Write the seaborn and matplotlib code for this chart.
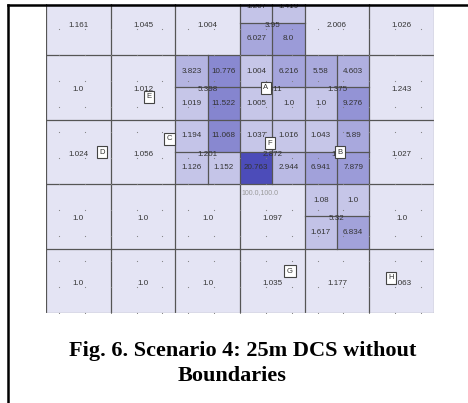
import numpy as np
import pandas as pd
import seaborn as sns
import matplotlib.pyplot as plt
from matplotlib.colors import LinearSegmentedColormap
from matplotlib.lines import Line2D
from matplotlib.patches import Rectangle

# top level 25m cells (5 rows x 6 cols), value shown in the middle
top_values = [
    [1.161, 1.045, 1.004, 3.95, 2.006, 1.026],
    [1.0, 1.012, 5.398, 2.311, 1.375, 1.243],
    [1.024, 1.056, 1.201, 2.872, 1.4, 1.027],
    [1.0, 1.0, 1.0, 1.097, 5.32, 1.0],
    [1.0, 1.0, 1.0, 1.035, 1.177, 1.063],
]
# cells that got split in four: (row, col) and values TL, TR, BL, BR
sub_cells = [(0, 3), (1, 2), (1, 3), (1, 4), (2, 2), (2, 3), (2, 4), (3, 4)]
sub_values = [
    [1.207, 1.419, 6.027, 8.0],
    [3.823, 10.776, 1.019, 11.522],
    [1.004, 6.216, 1.005, 1.0],
    [5.58, 4.603, 1.0, 9.276],
    [1.194, 11.068, 1.126, 1.152],
    [1.037, 1.016, 20.763, 2.944],
    [1.043, 5.89, 6.941, 7.879],
    [1.08, 1.0, 1.617, 6.834],
]
# marker boxes (in half-cell units)
marker_names = ['A', 'B', 'C', 'D', 'E', 'F', 'G', 'H']
marker_x = [6.80, 9.09, 3.83, 1.73, 3.19, 6.93, 7.55, 10.67]
marker_y = [3.02, 5.01, 4.60, 5.01, 3.30, 4.73, 8.70, 8.91]
origin_label = '100.0,100.0'

nrows, ncols = 5, 6

def top_shade(v):
    return 0.01 * (v - 1)

def sub_shade(v):
    return 0.2 + 0.8 * (v - 1) / 19.76

# half resolution grid for the heatmap
shade = np.zeros((nrows * 2, ncols * 2))
for r in range(nrows):
    for c in range(ncols):
        shade[2*r:2*r+2, 2*c:2*c+2] = top_shade(top_values[r][c])
for (r, c), vals in zip(sub_cells, sub_values):
    shade[2*r, 2*c] = sub_shade(vals[0])
    shade[2*r, 2*c+1] = sub_shade(vals[1])
    shade[2*r+1, 2*c] = sub_shade(vals[2])
    shade[2*r+1, 2*c+1] = sub_shade(vals[3])
df = pd.DataFrame(shade)

cmap = LinearSegmentedColormap.from_list('lav', ['#e4e4f4', '#4c4cb9'])

W, H = 468, 403
fig = plt.figure(figsize=(W/100, H/100), dpi=100)
ax = fig.add_axes([46/W, 90/H, 388/W, 322.5/H])
sns.heatmap(df, cmap=cmap, vmin=0, vmax=1, cbar=False, ax=ax,
            xticklabels=False, yticklabels=False, linewidths=0)
ax.set_xlim(0, 12)
ax.set_ylim(10, 0)
ax.axis('off')

# grid lines
for x in range(0, 12, 2):
    ax.plot([x, x], [0, 10], color='#555555', lw=0.9, zorder=3)
for y in range(0, 10, 2):
    ax.plot([0, 12], [y, y], color='#555555', lw=0.9, zorder=3)
ax.plot([12, 12], [0, 10], color='#9a9a9a', lw=0.9, zorder=3)
ax.plot([0, 12], [10, 10], color='#9a9a9a', lw=0.9, zorder=3)
for (r, c) in sub_cells:
    ax.plot([2*c+1, 2*c+1], [2*r, 2*r+2], color='#555555', lw=0.9, zorder=3)
    ax.plot([2*c, 2*c+2], [2*r+1, 2*r+1], color='#555555', lw=0.9, zorder=3)

# 10m lattice dots
lx = np.arange(0.4, 12, 0.8)
ly = np.arange(0.4, 10.1, 0.8)
gx, gy = np.meshgrid(lx, ly)
ax.scatter(gx.ravel(), gy.ravel(), s=0.7, color='#808080', lw=0, zorder=4)

tkw = dict(ha='center', va='center', fontsize=5.8, color='#333333',
           family='Liberation Sans', zorder=5)
for r in range(nrows):
    for c in range(ncols):
        ax.text(2*c+1, 2*r+1.08, str(top_values[r][c]), **tkw)
for (r, c), vals in zip(sub_cells, sub_values):
    for k, v in enumerate(vals):
        ax.text(2*c+0.5+(k % 2), 2*r+0.5+(k // 2), str(v), **tkw)

ax.text(6.05, 6.25, origin_label, ha='left', va='center', fontsize=5,
        color='#999999', family='Liberation Sans', zorder=5)

for name, x, y in zip(marker_names, marker_x, marker_y):
    ax.text(x, y, name, ha='center', va='center', fontsize=5.5, color='#333333',
            family='Liberation Sans', zorder=6,
            bbox=dict(boxstyle='square,pad=0.35', fc='white', ec='#444444', lw=0.8))

# page frame (top and left) and white margin above it
fig.add_artist(Rectangle((0, (H-4)/H), 1, 4/H, transform=fig.transFigure,
                         fc='white', ec='none', zorder=10))
fig.add_artist(Line2D([8/W, 1], [(H-5)/H, (H-5)/H], color='black', lw=1.8, zorder=11))
fig.add_artist(Line2D([8/W, 8/W], [0, (H-5)/H], color='black', lw=1.8, zorder=11))

fig.text(242.5/W, 1-351/H, 'Fig. 6. Scenario 4: 25m DCS without', ha='center',
         va='center', family='Liberation Serif', fontweight='bold', fontsize=16)
fig.text(232.5/W, 1-376/H, 'Boundaries', ha='center', va='center',
         family='Liberation Serif', fontweight='bold', fontsize=16)

fig.savefig('out.png', dpi=100)
